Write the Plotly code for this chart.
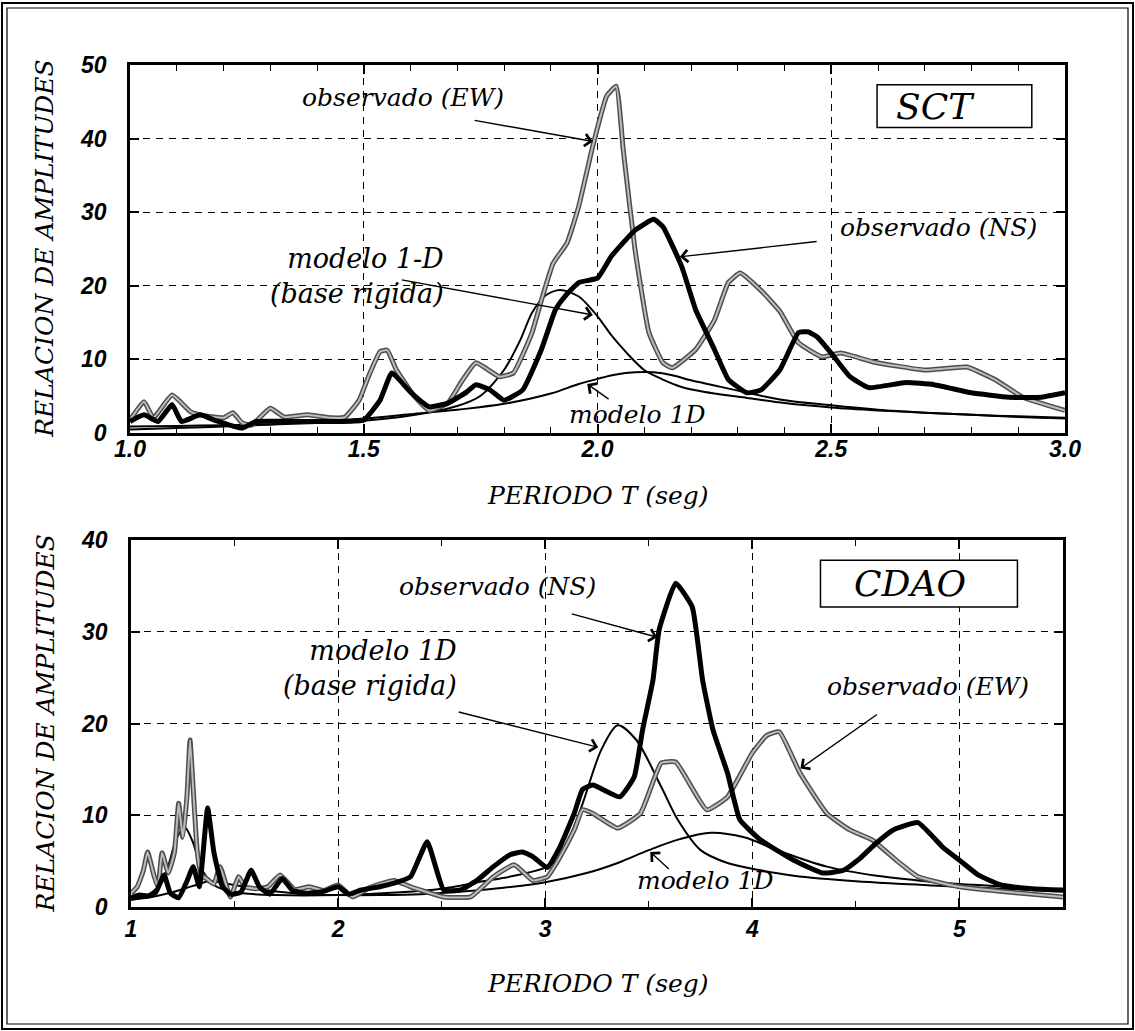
import plotly.graph_objects as go

W, H = 1135, 1031

# ---------------- SCT (top panel) ----------------
sct_T_ew = [1.00, 1.03, 1.05, 1.09, 1.13, 1.15, 1.20, 1.22, 1.24, 1.26, 1.30, 1.33, 1.38, 1.43, 1.46, 1.49,
            1.51, 1.535, 1.55, 1.57, 1.61, 1.64, 1.68, 1.71, 1.74, 1.79, 1.82, 1.86, 1.88, 1.905, 1.935, 1.96,
            1.99, 2.02, 2.04, 2.055, 2.08, 2.11, 2.14, 2.16, 2.21, 2.25, 2.28, 2.305, 2.35, 2.39, 2.43, 2.48,
            2.52, 2.59, 2.70, 2.79, 2.85, 2.91, 3.00]
sct_A_ew = [1.7, 4.2, 2.0, 5.1, 2.8, 2.4, 2.0, 2.7, 1.3, 1.0, 3.3, 2.1, 2.4, 2.0, 2.1, 4.4,
            7.6, 11.0, 11.2, 8.5, 4.8, 3.0, 4.0, 7.0, 9.5, 7.6, 8.1, 13.6, 18.0, 23.0, 25.8, 30.8,
            39.0, 45.8, 47.1, 38.5, 25.0, 13.6, 9.5, 8.8, 11.3, 15.3, 20.4, 21.7, 19.3, 16.5, 12.2, 10.3,
            10.8, 9.6, 8.5, 8.9, 7.2, 4.8, 3.0]

sct_T_ns = [1.00, 1.03, 1.06, 1.09, 1.11, 1.15, 1.18, 1.24, 1.27, 1.35, 1.45, 1.50, 1.535, 1.56, 1.60, 1.64,
            1.68, 1.72, 1.74, 1.77, 1.80, 1.84, 1.88, 1.91, 1.93, 1.96, 2.00, 2.03, 2.08, 2.12, 2.14, 2.18,
            2.21, 2.25, 2.28, 2.32, 2.35, 2.39, 2.43, 2.45, 2.47, 2.50, 2.54, 2.58, 2.66, 2.72, 2.80, 2.88,
            2.95, 3.00]
sct_A_ns = [1.5, 2.4, 1.5, 3.8, 1.5, 2.4, 1.7, 0.6, 1.5, 1.5, 1.5, 1.7, 4.4, 8.1, 5.5, 3.5,
            4.0, 5.5, 6.5, 5.8, 4.4, 5.8, 11.3, 16.7, 18.5, 20.4, 21.0, 24.0, 27.5, 29.0, 28.0, 22.6,
            16.7, 11.3, 7.2, 5.4, 5.8, 8.5, 13.6, 13.7, 13.0, 10.8, 7.6, 6.1, 6.8, 6.5, 5.4, 4.8,
            4.8, 5.4]

sct_T_rig = [1.00, 1.10, 1.20, 1.30, 1.40, 1.50, 1.60, 1.70, 1.75, 1.80, 1.835, 1.86, 1.89, 1.92, 1.96, 2.00,
             2.03, 2.06, 2.10, 2.14, 2.18, 2.25, 2.32, 2.40, 2.50, 2.60, 2.70, 2.80, 2.90, 3.00]
sct_A_rig = [0.8, 0.9, 1.0, 1.1, 1.3, 1.6, 2.3, 3.6, 5.0, 8.5, 12.6, 16.3, 18.7, 19.4, 18.5, 15.8,
             13.2, 11.0, 8.5, 7.2, 6.2, 5.3, 4.7, 4.0, 3.4, 3.0, 2.7, 2.4, 2.2, 2.0]

sct_T_1d = [1.00, 1.10, 1.20, 1.30, 1.40, 1.50, 1.60, 1.70, 1.80, 1.90, 1.96, 2.00, 2.04, 2.08, 2.12, 2.16,
            2.20, 2.25, 2.30, 2.39, 2.50, 2.60, 2.70, 2.80, 2.90, 3.00]
sct_A_1d = [0.4, 0.6, 0.8, 1.1, 1.5, 1.9, 2.5, 3.1, 3.9, 5.3, 6.6, 7.3, 7.9, 8.2, 8.2, 7.8,
            7.1, 6.4, 5.7, 4.5, 3.7, 3.1, 2.7, 2.4, 2.1, 1.9]

# ---------------- CDAO (bottom panel) ----------------
cdao_T_ew = [1.00, 1.03, 1.06, 1.08, 1.11, 1.13, 1.15, 1.18, 1.21, 1.23, 1.25, 1.27, 1.285, 1.30, 1.32, 1.34,
             1.37, 1.40, 1.43, 1.48, 1.52, 1.55, 1.60, 1.66, 1.72, 1.79, 1.86, 1.93, 2.00, 2.07, 2.15, 2.27,
             2.35, 2.51, 2.64, 2.75, 2.85, 2.94, 3.01, 3.07, 3.14, 3.18, 3.23, 3.35, 3.46, 3.56, 3.63, 3.78,
             3.88, 4.00, 4.07, 4.13, 4.23, 4.36, 4.47, 4.58, 4.70, 4.80, 5.00, 5.25, 5.50]
cdao_A_ew = [1.5, 2.2, 4.0, 6.0, 3.5, 2.2, 5.9, 3.7, 6.0, 11.3, 7.6, 12.0, 18.2, 13.0, 6.0, 3.5,
             3.0, 2.5, 4.4, 1.1, 3.3, 2.2, 2.0, 2.2, 3.5, 1.9, 2.2, 1.8, 2.4, 1.1, 2.1, 2.9,
             2.2, 1.1, 1.1, 3.3, 4.6, 2.9, 3.3, 5.4, 8.4, 10.6, 10.2, 8.6, 10.2, 15.7, 15.8, 10.6,
             12.0, 16.8, 18.7, 19.1, 14.6, 10.2, 8.4, 7.3, 5.0, 3.3, 2.2, 1.6, 1.1]

cdao_T_ns = [1.00, 1.04, 1.08, 1.12, 1.16, 1.19, 1.23, 1.27, 1.30, 1.33, 1.37, 1.40, 1.44, 1.48, 1.53, 1.58,
             1.62, 1.67, 1.73, 1.78, 1.85, 1.93, 2.00, 2.05, 2.11, 2.20, 2.27, 2.35, 2.43, 2.51, 2.59, 2.67,
             2.75, 2.83, 2.89, 2.94, 3.01, 3.07, 3.14, 3.18, 3.23, 3.36, 3.43, 3.47, 3.52, 3.55, 3.63, 3.71,
             3.76, 3.81, 3.88, 3.94, 4.04, 4.20, 4.34, 4.44, 4.52, 4.60, 4.68, 4.80, 4.92, 5.00, 5.09, 5.20,
             5.35, 5.50]
cdao_A_ns = [1.0, 1.3, 1.2, 1.6, 3.5, 1.5, 1.0, 2.8, 4.4, 2.2, 10.8, 6.0, 2.3, 1.4, 1.6, 4.0,
             2.2, 1.4, 3.1, 1.8, 1.5, 1.7, 2.2, 1.4, 1.85, 2.2, 2.6, 3.3, 7.1, 1.85, 1.85, 2.9,
             4.4, 5.7, 6.0, 5.5, 4.3, 6.5, 10.2, 12.8, 13.3, 12.0, 14.2, 19.3, 24.7, 30.2, 35.3, 32.7,
             24.7, 19.3, 14.6, 9.5, 7.3, 5.1, 3.7, 4.0, 5.3, 7.0, 8.4, 9.2, 6.5, 5.1, 3.5, 2.4,
             2.0, 1.85]

cdao_T_rig = [1.00, 1.08, 1.14, 1.18, 1.22, 1.26, 1.30, 1.34, 1.40, 1.50, 1.70, 2.00, 2.30, 2.50, 2.70, 2.85,
              3.00, 3.07, 3.17, 3.27, 3.35, 3.44, 3.56, 3.64, 3.75, 3.88, 4.04, 4.20, 4.50, 5.00, 5.50]
cdao_A_rig = [0.8, 1.3, 2.5, 4.5, 7.5, 8.7, 7.0, 4.2, 2.4, 1.6, 1.3, 1.3, 1.6, 2.0, 2.8, 3.4,
              4.3, 5.4, 10.6, 17.1, 19.8, 18.2, 13.1, 9.5, 6.2, 4.8, 4.0, 3.4, 2.8, 2.2, 1.7]

cdao_T_1d = [1.00, 1.10, 1.20, 1.30, 1.38, 1.45, 1.55, 1.70, 1.85, 2.00, 2.20, 2.40, 2.60, 2.80, 3.00, 3.20,
             3.35, 3.50, 3.65, 3.80, 3.96, 4.12, 4.36, 4.60, 4.80, 5.00, 5.25, 5.50]
cdao_A_1d = [0.8, 1.1, 1.6, 2.3, 2.8, 2.6, 2.2, 1.7, 1.4, 1.3, 1.3, 1.4, 1.7, 2.1, 2.7, 3.7,
             4.8, 6.2, 7.4, 8.1, 7.6, 6.2, 4.4, 3.4, 2.9, 2.5, 2.2, 1.9]

# axis ranges
sct_xrange, sct_yrange = [1.0, 3.0], [0, 50]
cdao_xrange, cdao_yrange = [1.0, 5.5], [0, 40]

# ---------------- figure ----------------
fig = go.Figure()


def add_panel(xa, ya, T_ew, A_ew, T_ns, A_ns, T_rig, A_rig, T_1d, A_1d):
    kw = dict(xaxis=xa, yaxis=ya, mode="lines", hoverinfo="skip", showlegend=False)
    fig.add_trace(go.Scatter(x=T_1d, y=A_1d, line=dict(color="black", width=2, shape="spline", smoothing=1.0), **kw))
    fig.add_trace(go.Scatter(x=T_rig, y=A_rig, line=dict(color="black", width=2, shape="spline", smoothing=0.8), **kw))
    fig.add_trace(go.Scatter(x=T_ew, y=A_ew, line=dict(color="#4d4d4d", width=5, shape="spline", smoothing=0.4), **kw))
    fig.add_trace(go.Scatter(x=T_ew, y=A_ew, line=dict(color="#bcbcbc", width=2, shape="spline", smoothing=0.4), **kw))
    fig.add_trace(go.Scatter(x=T_ns, y=A_ns, line=dict(color="black", width=5, shape="spline", smoothing=0.4), **kw))


add_panel("x", "y", sct_T_ew, sct_A_ew, sct_T_ns, sct_A_ns, sct_T_rig, sct_A_rig, sct_T_1d, sct_A_1d)
add_panel("x2", "y2", cdao_T_ew, cdao_A_ew, cdao_T_ns, cdao_A_ns, cdao_T_rig, cdao_A_rig, cdao_T_1d, cdao_A_1d)

tickfont = dict(family="Liberation Sans", size=23, color="black", style="italic", weight="bold")


def xaxis_cfg(domain, rng, dtick, minor, fmt, standoff):
    return dict(domain=domain, range=rng, dtick=dtick, tick0=1, tickformat=fmt, showgrid=True,
                gridcolor="black", griddash="7px,6px", gridwidth=1, ticks="inside", ticklen=9,
                tickwidth=1.5, tickcolor="black", mirror="allticks", showline=True, linewidth=2.5,
                linecolor="black", zeroline=False, tickfont=tickfont, ticklabelstandoff=standoff,
                automargin=False,
                minor=dict(dtick=minor, tick0=1, ticks="inside", ticklen=6, tickwidth=1.2,
                           tickcolor="black", showgrid=False), fixedrange=True)


def yaxis_cfg(domain, rng, anchor):
    return dict(domain=domain, range=rng, dtick=10, showgrid=True, gridcolor="black",
                griddash="7px,6px", gridwidth=1, ticks="inside", ticklen=9, tickwidth=1.5,
                tickcolor="black", mirror="allticks", showline=True, linewidth=2.5, linecolor="black",
                zeroline=False, tickfont=tickfont, ticklabelstandoff=16, anchor=anchor,
                automargin=False, fixedrange=True)


def px_x(p):
    return p / W


def px_y(p):
    return 1 - p / H


xdom_top = [px_x(130), px_x(1065)]
ydom_top = [px_y(432.5), px_y(65)]
xdom_bot = [px_x(131), px_x(1063)]
ydom_bot = [px_y(907), px_y(540)]

fig.update_layout(
    width=W, height=H, autosize=False,
    margin=dict(l=0, r=0, t=0, b=0, pad=0, autoexpand=False),
    paper_bgcolor="white", plot_bgcolor="white", showlegend=False,
    xaxis=dict(xaxis_cfg(xdom_top, sct_xrange, 0.5, 0.1, ".1f", -6), anchor="y"),
    yaxis=yaxis_cfg(ydom_top, sct_yrange, "x"),
    xaxis2=dict(xaxis_cfg(xdom_bot, cdao_xrange, 1, 0.5, "d", 0), anchor="y2"),
    yaxis2=yaxis_cfg(ydom_bot, cdao_yrange, "x2"),
)

lab_font = dict(family="DejaVu Serif", size=25, color="black", style="italic")
rig_font = dict(family="DejaVu Serif", size=27, color="black", style="italic")
box_font = dict(family="DejaVu Serif", size=36, color="black", style="italic")

annotations = []


def text(xr, yr, x, y, s, font=lab_font, xanchor="center", align="center"):
    annotations.append(dict(x=x, y=y, xref=xr, yref=yr, text=s, showarrow=False, font=font,
                            xanchor=xanchor, yanchor="middle", align=align))


def arrow(xr, yr, tail, tip):
    annotations.append(dict(x=tip[0], y=tip[1], ax=tail[0], ay=tail[1], xref=xr, yref=yr,
                            axref=xr, ayref=yr, text="", showarrow=True, arrowhead=4,
                            arrowsize=1.7, arrowwidth=1.4, arrowcolor="black", standoff=0,
                            startstandoff=0))


# top panel labels
text("x", "y", 1.583, 45.6, "observado (EW)")
arrow("x", "y", (1.734, 42.5), (1.990, 39.6))
text("x", "y", 1.675, 21.3, "modelo 1-D<br>(base rigida)", font=rig_font, xanchor="right", align="right")
arrow("x", "y", (1.578, 20.8), (1.990, 16.0))
text("x", "y", 2.73, 27.9, "observado (NS)")
arrow("x", "y", (2.472, 26.0), (2.176, 23.9))
text("x", "y", 2.085, 2.4, "modelo 1D")
arrow("x", "y", (2.027, 4.4), (1.978, 6.6))
text("x", "y", 2.724, 44.4, "SCT", box_font)

# bottom panel labels
text("x2", "y2", 2.768, 34.9, "observado (NS)")
arrow("x2", "y2", (3.121, 32.0), (3.541, 29.4))
text("x2", "y2", 2.585, 26.0, "modelo 1D<br>(base rigida)", font=rig_font, xanchor="right", align="right")
arrow("x2", "y2", (2.575, 21.3), (3.256, 17.4))
text("x2", "y2", 4.85, 24.0, "observado (EW)")
arrow("x2", "y2", (4.609, 21.1), (4.232, 15.1))
text("x2", "y2", 3.773, 2.9, "modelo 1D")
arrow("x2", "y2", (3.604, 4.0), (3.507, 6.0))
text("x2", "y2", 4.763, 35.3, "CDAO", box_font)

# axis titles
title_font = dict(family="DejaVu Serif", size=25, color="black", style="italic")
for yd in (ydom_top, ydom_bot):
    annotations.append(dict(x=px_x(45), y=(yd[0] + yd[1]) / 2, xref="paper", yref="paper",
                            text="RELACION DE AMPLITUDES", textangle=-90, showarrow=False,
                            font=title_font, xanchor="center", yanchor="middle"))
for py in (495, 983):
    annotations.append(dict(x=px_x(598), y=px_y(py), xref="paper", yref="paper",
                            text="PERIODO T (seg)", showarrow=False, font=title_font,
                            xanchor="center", yanchor="middle"))

fig.update_layout(annotations=annotations)

shapes = [
    dict(type="rect", xref="x", yref="y", x0=2.598, x1=2.929, y0=41.5, y1=47.3,
         line=dict(color="black", width=1.5), fillcolor="white", layer="above"),
    dict(type="rect", xref="x2", yref="y2", x0=4.329, x1=5.280, y0=32.7, y1=37.8,
         line=dict(color="black", width=1.5), fillcolor="white", layer="above"),
    dict(type="rect", xref="paper", yref="paper", x0=px_x(2), x1=px_x(1133), y0=px_y(1029), y1=px_y(3),
         line=dict(color="black", width=2)),
    dict(type="rect", xref="paper", yref="paper", x0=px_x(7), x1=px_x(1128), y0=px_y(1024), y1=px_y(8),
         line=dict(color="black", width=1.2)),
]
fig.update_layout(shapes=shapes)

fig.write_html("out.html")
